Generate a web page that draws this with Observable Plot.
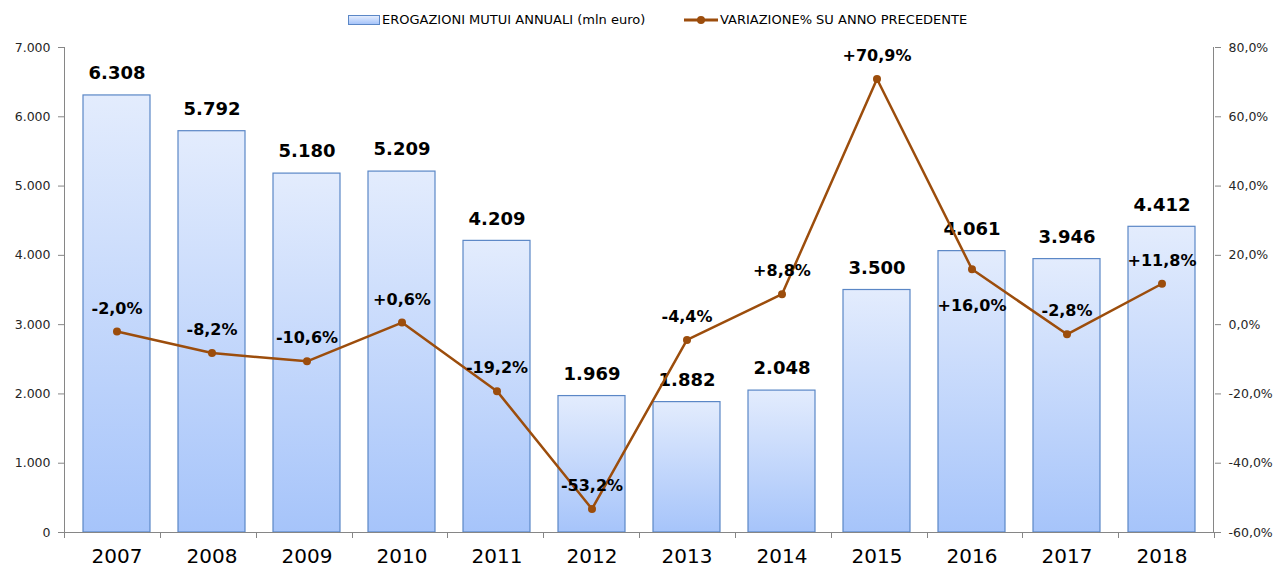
<!DOCTYPE html>
<html>
<head>
<meta charset="utf-8">
<script src="https://cdn.jsdelivr.net/npm/d3@7"></script>
<script src="https://cdn.jsdelivr.net/npm/@observablehq/plot@0.6"></script>
<style>
  html, body { margin: 0; padding: 0; background: #fff; }
  #wrap { position: relative; width: 1273px; height: 573px; font-family: "DejaVu Sans", sans-serif; }
  #legend { position: absolute; left: 0; top: 0; width: 1273px; height: 38px; }
  .lg { position: absolute; top: 12px; font-size: 13px; color: #000; white-space: nowrap; line-height: 16px; }
  .sw-bar { position: absolute; top: 15px; width: 30px; height: 8px; border: 1px solid #5b87c6;
            background: linear-gradient(#e3ecfd, #a6c4fa); }
  #chart { position: absolute; left: 0; top: 38px; }
</style>
</head>
<body>
<div id="wrap">
  <div id="legend">
    <div class="sw-bar" style="left:348px"></div>
    <div class="lg" style="left:382px">EROGAZIONI MUTUI ANNUALI (mln euro)</div>
    <svg style="position:absolute;left:683px;top:12px" width="36" height="16">
      <line x1="1" y1="8" x2="35" y2="8" stroke="#9c4d0c" stroke-width="3"/>
      <circle cx="18" cy="8" r="4" fill="#9c4d0c"/>
    </svg>
    <div class="lg" style="left:720px">VARIAZIONE% SU ANNO PRECEDENTE</div>
  </div>
  <div id="chart"></div>
</div>
<script>
const years = ["2007","2008","2009","2010","2011","2012","2013","2014","2015","2016","2017","2018"];
const erogazioni = [6308, 5792, 5180, 5209, 4209, 1969, 1882, 2048, 3500, 4061, 3946, 4412];
const variazione = [-2.0, -8.2, -10.6, 0.6, -19.2, -53.2, -4.4, 8.8, 70.9, 16.0, -2.8, 11.8];
const leftTicks = [0, 1000, 2000, 3000, 4000, 5000, 6000, 7000];
const rightTicks = [-60, -40, -20, 0, 20, 40, 60, 80];

const pctMin = -60, pctMax = 80, yMax = 7000;
const toY = p => (p - pctMin) / (pctMax - pctMin) * yMax;

const data = years.map((y, i) => ({year: y, value: erogazioni[i], pct: variazione[i], py: toY(variazione[i])}));

const fmtInt = v => d3.format(",")(v).replace(/,/g, ".");
const fmtPctAxis = p => d3.format(".1f")(p).replace(".", ",").replace("−", "-") + "%";
const fmtPctLabel = p => (p > 0 ? "+" : "") + d3.format(".1f")(p).replace(".", ",").replace("−", "-") + "%";

const W = 1273, H = 535, ML = 64, MR = 59, MT = 9, MB = 41;
const axisColor = "#868686";
const lineColor = "#9c4d0c";

const ns = "http://www.w3.org/2000/svg";

// gradient defs
function defs() {
  const d = document.createElementNS(ns, "defs");
  const g = document.createElementNS(ns, "linearGradient");
  g.setAttribute("id", "barGrad");
  g.setAttribute("x1", "0"); g.setAttribute("y1", "0");
  g.setAttribute("x2", "0"); g.setAttribute("y2", "1");
  [["0%", "#e3ecfd"], ["100%", "#a6c4fa"]].forEach(([o, c]) => {
    const s = document.createElementNS(ns, "stop");
    s.setAttribute("offset", o); s.setAttribute("stop-color", c);
    g.appendChild(s);
  });
  d.appendChild(g);
  return d;
}

function mkLine(g, x1, y1, x2, y2) {
  const l = document.createElementNS(ns, "line");
  l.setAttribute("x1", x1); l.setAttribute("x2", x2);
  l.setAttribute("y1", y1); l.setAttribute("y2", y2);
  l.setAttribute("stroke", axisColor);
  l.setAttribute("stroke-width", 1);
  g.appendChild(l);
}

// axis lines and category boundary ticks
function axisFrame(index, scales, values, dims) {
  const g = document.createElementNS(ns, "g");
  const n = years.length;
  const x0 = dims.marginLeft, x1 = dims.width - dims.marginRight;
  const yTop = dims.marginTop, y0 = dims.height - dims.marginBottom;
  const step = (x1 - x0) / n;
  mkLine(g, x0 + 0.5, yTop, x0 + 0.5, y0);
  mkLine(g, x1 - 0.5, yTop, x1 - 0.5, y0);
  for (let i = 0; i <= n; i++) {
    const x = Math.round(x0 + i * step) + 0.5;
    mkLine(g, x, y0, x, y0 + 6);
  }
  return g;
}

const plot = Plot.plot({
  width: W, height: H,
  marginLeft: ML, marginRight: MR, marginTop: MT, marginBottom: MB,
  style: {fontFamily: "DejaVu Sans, sans-serif", background: "white", overflow: "visible"},
  x: {domain: years, paddingInner: 0.3, paddingOuter: 0.15, axis: null},
  y: {domain: [0, yMax], axis: null},
  marks: [
    defs,
    Plot.barY(data, {x: "year", y: "value", fill: "url(#barGrad)", stroke: "#5b87c6", strokeWidth: 1.2}),
    Plot.axisY(leftTicks, {anchor: "left", tickFormat: fmtInt, tickSize: 6, tickPadding: 8,
      fontSize: 12.5, color: "#262626", stroke: axisColor, label: null}),
    Plot.axisY(rightTicks.map(toY), {anchor: "right", tickFormat: v => fmtPctAxis(v / yMax * (pctMax - pctMin) + pctMin),
      tickSize: 6, tickPadding: 8, fontSize: 12.5, color: "#262626", stroke: axisColor, label: null}),
    Plot.ruleY([0], {stroke: axisColor}),
    axisFrame,
    Plot.axisX({anchor: "bottom", tickSize: 0, tickPadding: 16, fontSize: 20, color: "#000", label: null}),
    // value labels
    Plot.text(data, {x: "year", y: "value", text: d => fmtInt(d.value), dy: -22,
      fontSize: 18, fontWeight: "bold", fill: "#000"}),
    // percent line
    Plot.line(data, {x: "year", y: "py", stroke: lineColor, strokeWidth: 2.5}),
    Plot.dot(data, {x: "year", y: "py", r: 4, fill: lineColor, stroke: "none"}),
    Plot.text(data.filter(d => d.year !== "2016"), {x: "year", y: "py", text: d => fmtPctLabel(d.pct), dy: -23,
      fontSize: 16, fontWeight: "bold", fill: "#000"}),
    Plot.text(data.filter(d => d.year === "2016"), {x: "year", y: "py", text: d => fmtPctLabel(d.pct), dy: 37,
      fontSize: 16, fontWeight: "bold", fill: "#000"})
  ]
});
document.getElementById("chart").appendChild(plot);
</script>
</body>
</html>
